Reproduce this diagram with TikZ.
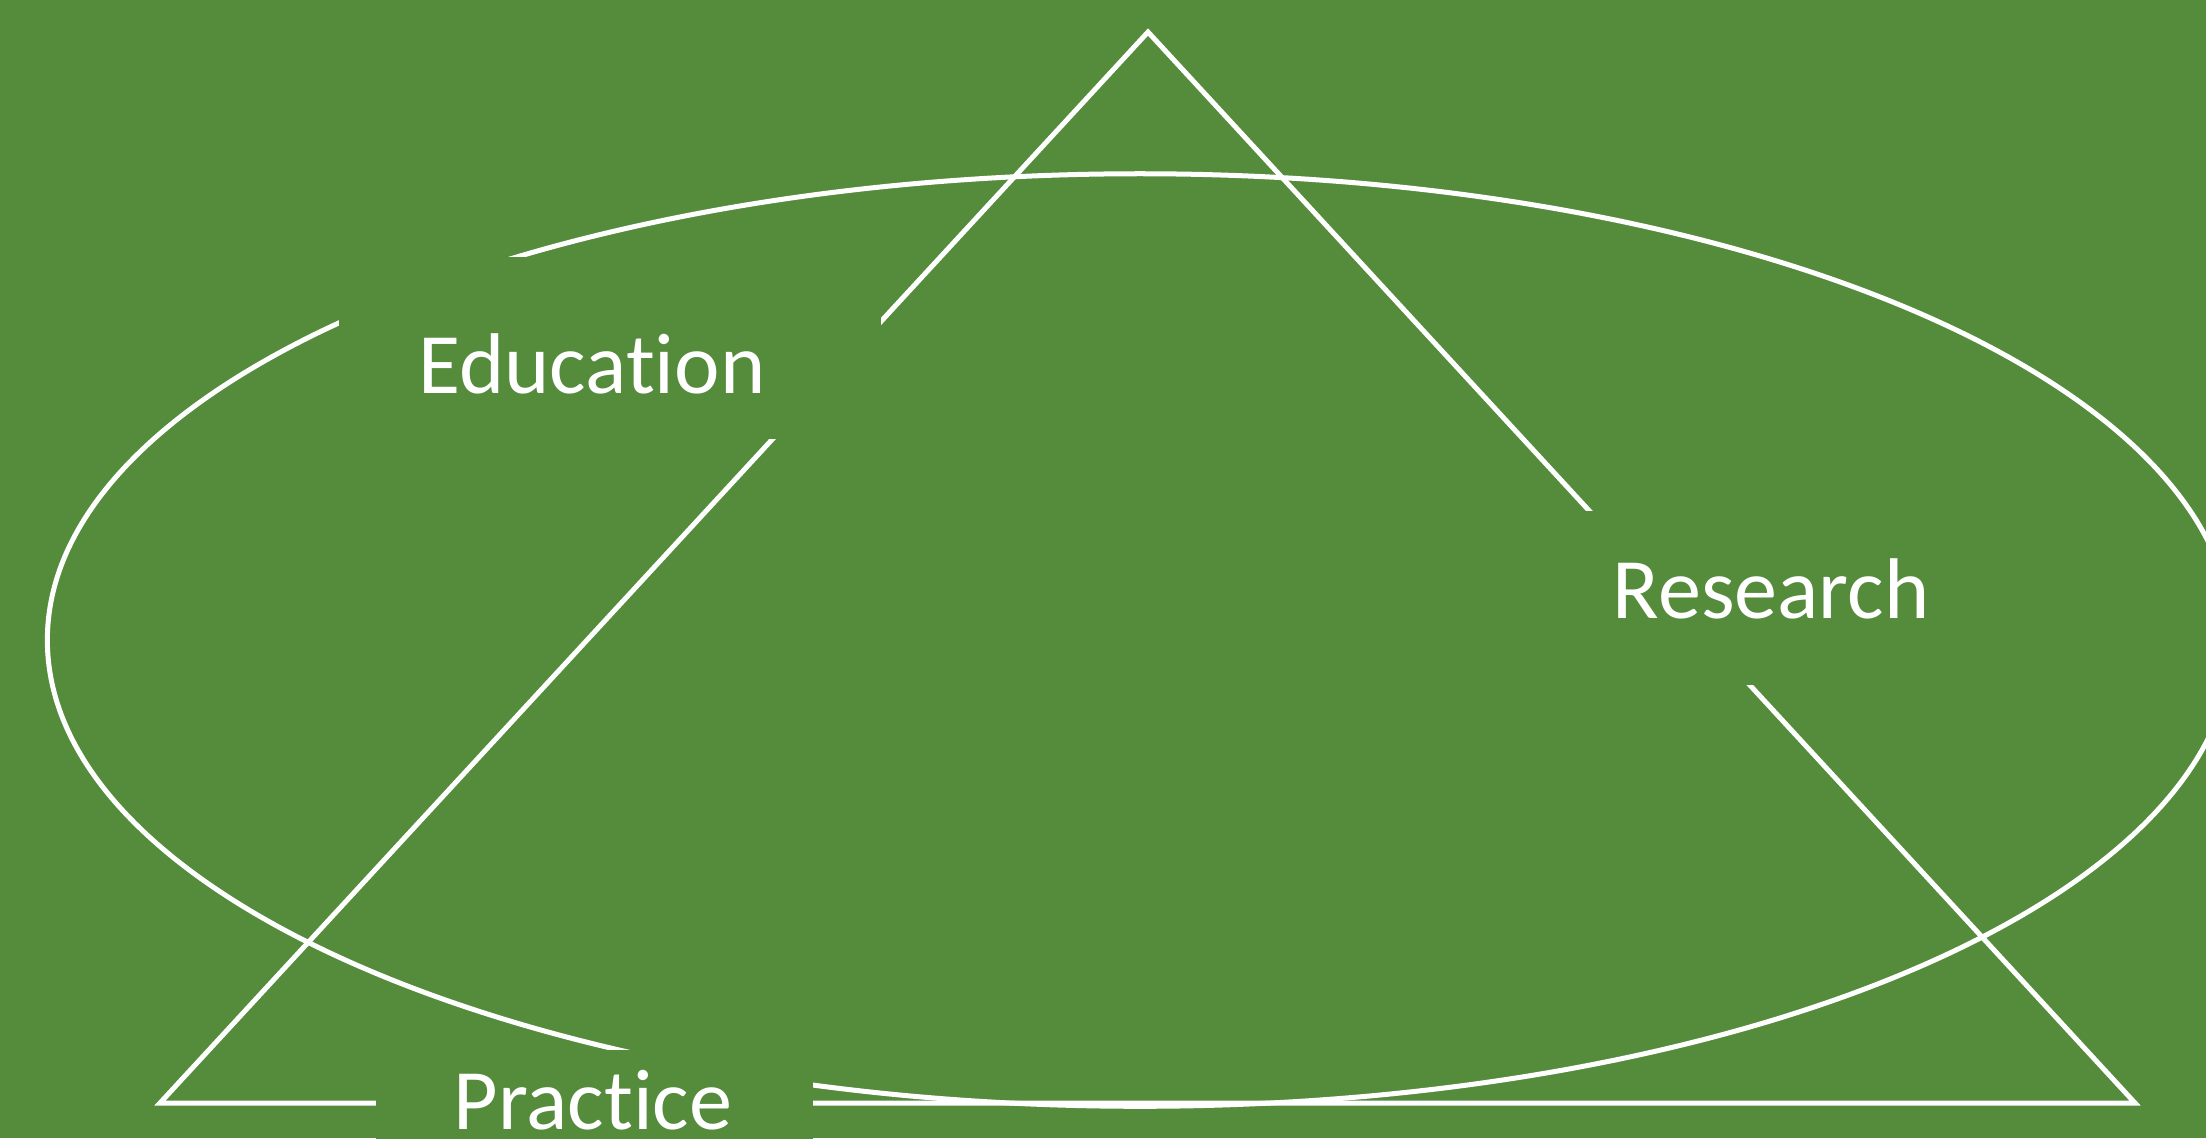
\documentclass[tikz,border=0pt]{standalone}
\usepackage{fontspec}
\setmainfont{Carlito}[Ligatures={NoCommon,NoRequired,NoContextual}]
\definecolor{bggreen}{RGB}{84,140,60}
\begin{document}
\begin{tikzpicture}[x=0.01cm,y=-0.01cm,
  shapeline/.style={draw=white,line width=0.05cm},
  mask/.style={fill=bggreen},
  lbl/.style={text=white,anchor=base,inner sep=0pt,font=\fontsize{24.5pt}{28pt}\selectfont}]
\fill[bggreen] (0,0) rectangle (2206,1138);
\useasboundingbox (0,0) rectangle (2206,1138);
\clip (0,0) rectangle (2206,1138);
% ellipse
\coordinate (ec) at (1140,640);
\draw[shapeline] (ec) ellipse [x radius=10.92cm, y radius=4.66cm];
% triangle
\coordinate (apex) at (1148,32);
\coordinate (bl) at (160,1103);
\coordinate (br) at (2135,1103);
\draw[shapeline,line join=miter] (apex) -- (bl) -- (br) -- cycle;
% masks behind labels
\fill[mask] (339,257) rectangle (881,439);
\fill[mask] (1534,511) rectangle (2009,685);
\fill[mask] (376,1050) rectangle (813,1200);
% labels
\node[lbl] (edu) at (592,393) {Education};
\node[lbl] (res) at (1771,618) {Research};
\node[lbl] (pra) at (593,1129) {Practice};
\end{tikzpicture}
\end{document}
